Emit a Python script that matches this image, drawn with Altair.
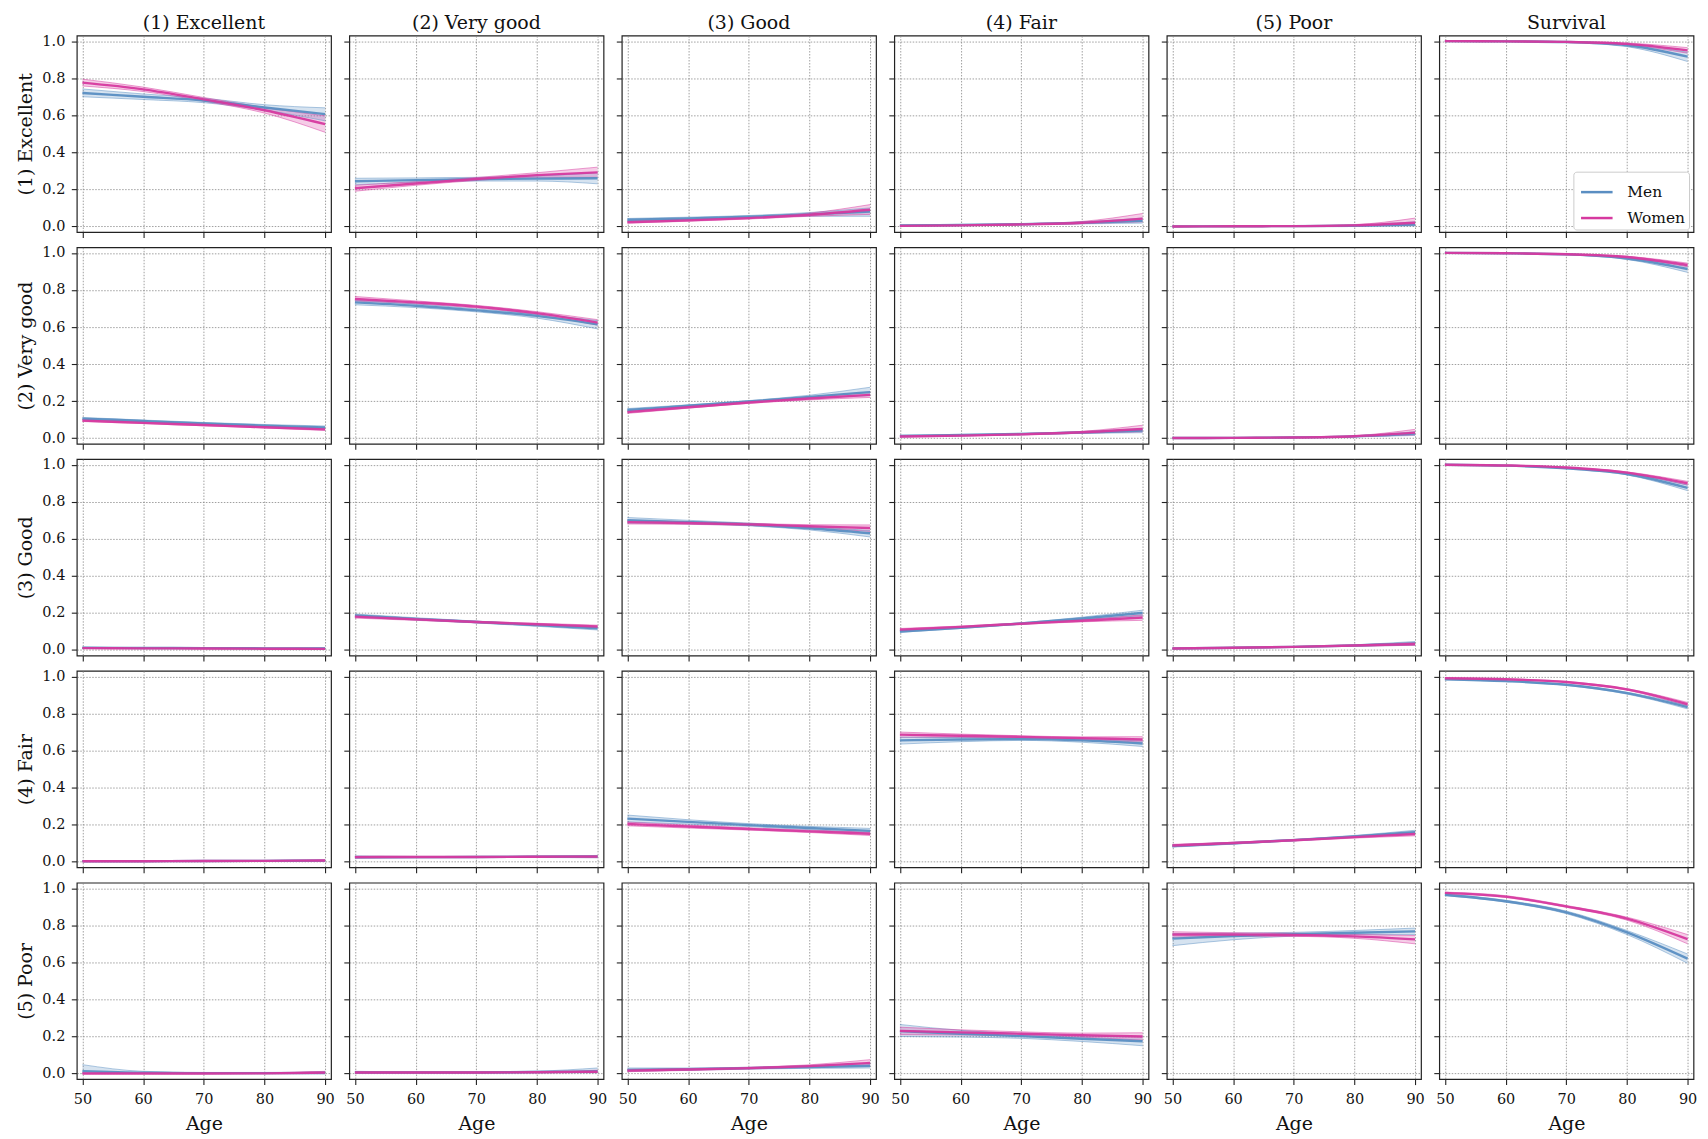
import altair as alt
import pandas as pd

AGES = [50, 60, 70, 80, 90]
STATES = ["(1) Excellent", "(2) Very good", "(3) Good", "(4) Fair", "(5) Poor"]
COLUMNS = STATES + ["Survival"]
SEXES = ["Men", "Women"]
COLORS = ["#5a8ec2", "#d6399f"]
Y_TICKS = [0.0, 0.2, 0.4, 0.6, 0.8, 1.0]

# [from-state row][to-state column][age 50, 60, 70, 80, 90]
MEN_MEAN = [
    [[0.720, 0.700, 0.680, 0.642, 0.606], [0.244, 0.250, 0.255, 0.258, 0.260], [0.036, 0.043, 0.052, 0.065, 0.080], [0.005, 0.008, 0.012, 0.019, 0.030], [0.000, 0.001, 0.002, 0.004, 0.010], [1.000, 0.999, 0.995, 0.978, 0.916]],
    [[0.106, 0.093, 0.080, 0.068, 0.058], [0.733, 0.715, 0.690, 0.660, 0.615], [0.152, 0.175, 0.198, 0.223, 0.249], [0.012, 0.017, 0.023, 0.031, 0.041], [0.001, 0.002, 0.004, 0.010, 0.025], [1.000, 0.998, 0.992, 0.970, 0.913]],
    [[0.012, 0.011, 0.010, 0.009, 0.008], [0.186, 0.168, 0.151, 0.134, 0.117], [0.700, 0.690, 0.677, 0.657, 0.630], [0.100, 0.120, 0.143, 0.170, 0.200], [0.008, 0.012, 0.017, 0.024, 0.035], [1.000, 0.995, 0.980, 0.950, 0.875]],
    [[0.003, 0.003, 0.004, 0.005, 0.006], [0.025, 0.025, 0.026, 0.027, 0.028], [0.233, 0.215, 0.198, 0.182, 0.167], [0.655, 0.660, 0.662, 0.655, 0.638], [0.085, 0.100, 0.117, 0.137, 0.160], [0.985, 0.975, 0.955, 0.910, 0.835]],
    [[0.012, 0.004, 0.002, 0.002, 0.003], [0.006, 0.006, 0.006, 0.008, 0.012], [0.020, 0.024, 0.029, 0.035, 0.042], [0.229, 0.215, 0.202, 0.188, 0.174], [0.728, 0.742, 0.752, 0.760, 0.767], [0.965, 0.930, 0.870, 0.762, 0.620]],
]
MEN_LO = [
    [[0.700, 0.685, 0.668, 0.628, 0.570], [0.225, 0.238, 0.245, 0.245, 0.230], [0.028, 0.037, 0.046, 0.055, 0.055], [0.002, 0.005, 0.009, 0.014, 0.018], [0.000, 0.000, 0.001, 0.002, 0.003], [0.999, 0.998, 0.993, 0.970, 0.890]],
    [[0.100, 0.088, 0.076, 0.063, 0.050], [0.720, 0.705, 0.682, 0.648, 0.590], [0.145, 0.170, 0.193, 0.215, 0.230], [0.008, 0.014, 0.020, 0.026, 0.030], [0.000, 0.001, 0.003, 0.007, 0.015], [0.999, 0.997, 0.990, 0.965, 0.895]],
    [[0.009, 0.009, 0.008, 0.007, 0.005], [0.178, 0.162, 0.146, 0.128, 0.108], [0.685, 0.680, 0.670, 0.648, 0.610], [0.095, 0.116, 0.139, 0.163, 0.185], [0.006, 0.010, 0.015, 0.020, 0.026], [0.999, 0.994, 0.978, 0.945, 0.860]],
    [[0.001, 0.002, 0.003, 0.003, 0.003], [0.018, 0.021, 0.023, 0.023, 0.022], [0.215, 0.203, 0.190, 0.173, 0.155], [0.635, 0.648, 0.655, 0.645, 0.622], [0.079, 0.095, 0.113, 0.132, 0.150], [0.983, 0.973, 0.952, 0.905, 0.825]],
    [[0.000, 0.000, 0.000, 0.000, 0.000], [0.002, 0.003, 0.003, 0.004, 0.004], [0.012, 0.018, 0.024, 0.028, 0.030], [0.200, 0.197, 0.190, 0.173, 0.150], [0.690, 0.722, 0.742, 0.750, 0.750], [0.960, 0.925, 0.863, 0.750, 0.595]],
]
MEN_HI = [
    [[0.742, 0.715, 0.692, 0.657, 0.640], [0.260, 0.262, 0.265, 0.272, 0.290], [0.043, 0.050, 0.059, 0.075, 0.100], [0.008, 0.011, 0.015, 0.025, 0.045], [0.002, 0.003, 0.004, 0.008, 0.025], [1.000, 1.000, 0.997, 0.985, 0.940]],
    [[0.112, 0.098, 0.085, 0.074, 0.066], [0.745, 0.725, 0.698, 0.670, 0.635], [0.160, 0.180, 0.203, 0.232, 0.275], [0.016, 0.020, 0.026, 0.036, 0.052], [0.002, 0.003, 0.006, 0.013, 0.035], [1.000, 0.999, 0.994, 0.975, 0.930]],
    [[0.015, 0.013, 0.012, 0.011, 0.012], [0.194, 0.174, 0.156, 0.140, 0.126], [0.715, 0.700, 0.685, 0.666, 0.645], [0.105, 0.124, 0.147, 0.177, 0.215], [0.010, 0.014, 0.019, 0.028, 0.046], [1.000, 0.996, 0.982, 0.955, 0.890]],
    [[0.005, 0.005, 0.006, 0.007, 0.010], [0.032, 0.029, 0.029, 0.031, 0.034], [0.252, 0.227, 0.206, 0.191, 0.180], [0.672, 0.670, 0.669, 0.663, 0.652], [0.091, 0.105, 0.121, 0.142, 0.170], [0.987, 0.977, 0.958, 0.915, 0.845]],
    [[0.048, 0.012, 0.006, 0.006, 0.010], [0.012, 0.009, 0.009, 0.013, 0.030], [0.030, 0.030, 0.034, 0.043, 0.055], [0.265, 0.233, 0.215, 0.203, 0.200], [0.755, 0.758, 0.762, 0.772, 0.785], [0.970, 0.935, 0.877, 0.772, 0.645]],
]
WOMEN_MEAN = [
    [[0.776, 0.740, 0.686, 0.627, 0.552], [0.206, 0.232, 0.256, 0.277, 0.292], [0.023, 0.033, 0.045, 0.063, 0.090], [0.003, 0.006, 0.011, 0.020, 0.042], [0.000, 0.001, 0.002, 0.006, 0.020], [1.000, 0.999, 0.996, 0.985, 0.950]],
    [[0.095, 0.083, 0.071, 0.059, 0.048], [0.751, 0.733, 0.710, 0.675, 0.624], [0.141, 0.167, 0.193, 0.214, 0.234], [0.009, 0.014, 0.021, 0.032, 0.050], [0.001, 0.002, 0.004, 0.011, 0.030], [1.000, 0.998, 0.993, 0.978, 0.935]],
    [[0.010, 0.009, 0.008, 0.007, 0.006], [0.180, 0.165, 0.151, 0.139, 0.127], [0.690, 0.685, 0.678, 0.668, 0.658], [0.110, 0.125, 0.142, 0.158, 0.175], [0.008, 0.012, 0.017, 0.024, 0.032], [1.000, 0.996, 0.985, 0.957, 0.900]],
    [[0.003, 0.003, 0.004, 0.005, 0.007], [0.025, 0.026, 0.026, 0.027, 0.028], [0.204, 0.190, 0.177, 0.164, 0.151], [0.686, 0.680, 0.674, 0.667, 0.660], [0.088, 0.101, 0.116, 0.133, 0.150], [0.990, 0.985, 0.970, 0.930, 0.850]],
    [[0.000, 0.000, 0.000, 0.001, 0.005], [0.006, 0.006, 0.006, 0.007, 0.010], [0.016, 0.022, 0.029, 0.040, 0.057], [0.230, 0.222, 0.215, 0.207, 0.200], [0.750, 0.750, 0.748, 0.740, 0.724], [0.975, 0.955, 0.902, 0.836, 0.725]],
]
WOMEN_LO = [
    [[0.758, 0.728, 0.676, 0.612, 0.508], [0.190, 0.222, 0.248, 0.265, 0.265], [0.018, 0.028, 0.040, 0.055, 0.065], [0.001, 0.004, 0.008, 0.015, 0.025], [0.000, 0.000, 0.001, 0.003, 0.008], [0.999, 0.998, 0.994, 0.980, 0.935]],
    [[0.090, 0.079, 0.067, 0.055, 0.042], [0.740, 0.725, 0.703, 0.667, 0.610], [0.134, 0.162, 0.188, 0.207, 0.220], [0.006, 0.011, 0.018, 0.027, 0.035], [0.000, 0.001, 0.003, 0.008, 0.018], [0.999, 0.997, 0.991, 0.974, 0.925]],
    [[0.008, 0.007, 0.006, 0.005, 0.004], [0.172, 0.160, 0.147, 0.134, 0.120], [0.680, 0.678, 0.672, 0.660, 0.640], [0.104, 0.121, 0.138, 0.152, 0.160], [0.006, 0.010, 0.015, 0.021, 0.025], [0.999, 0.995, 0.983, 0.953, 0.890]],
    [[0.002, 0.002, 0.003, 0.004, 0.004], [0.020, 0.023, 0.023, 0.024, 0.022], [0.194, 0.182, 0.171, 0.158, 0.142], [0.672, 0.671, 0.668, 0.660, 0.645], [0.082, 0.097, 0.112, 0.128, 0.140], [0.988, 0.983, 0.967, 0.926, 0.840]],
    [[0.000, 0.000, 0.000, 0.000, 0.001], [0.003, 0.004, 0.004, 0.005, 0.005], [0.010, 0.017, 0.024, 0.034, 0.042], [0.210, 0.208, 0.205, 0.196, 0.180], [0.735, 0.740, 0.740, 0.730, 0.700], [0.971, 0.950, 0.897, 0.828, 0.700]],
]
WOMEN_HI = [
    [[0.795, 0.752, 0.696, 0.642, 0.597], [0.222, 0.242, 0.264, 0.290, 0.320], [0.030, 0.038, 0.050, 0.072, 0.118], [0.005, 0.008, 0.014, 0.027, 0.070], [0.001, 0.002, 0.004, 0.010, 0.045], [1.000, 1.000, 0.998, 0.990, 0.965]],
    [[0.100, 0.087, 0.075, 0.064, 0.055], [0.765, 0.741, 0.717, 0.683, 0.640], [0.148, 0.172, 0.198, 0.221, 0.250], [0.012, 0.017, 0.024, 0.037, 0.070], [0.002, 0.003, 0.006, 0.014, 0.048], [1.000, 0.999, 0.995, 0.982, 0.945]],
    [[0.012, 0.011, 0.010, 0.009, 0.009], [0.188, 0.170, 0.155, 0.144, 0.134], [0.700, 0.692, 0.684, 0.676, 0.675], [0.116, 0.129, 0.146, 0.164, 0.190], [0.010, 0.014, 0.019, 0.027, 0.040], [1.000, 0.997, 0.987, 0.961, 0.910]],
    [[0.004, 0.004, 0.005, 0.006, 0.010], [0.030, 0.029, 0.029, 0.030, 0.034], [0.214, 0.198, 0.183, 0.170, 0.160], [0.700, 0.689, 0.680, 0.674, 0.675], [0.094, 0.105, 0.120, 0.138, 0.160], [0.992, 0.987, 0.973, 0.934, 0.860]],
    [[0.003, 0.002, 0.002, 0.003, 0.012], [0.009, 0.008, 0.008, 0.010, 0.018], [0.022, 0.027, 0.034, 0.047, 0.075], [0.250, 0.236, 0.225, 0.218, 0.220], [0.765, 0.760, 0.757, 0.750, 0.745], [0.979, 0.960, 0.907, 0.844, 0.750]],
]

SERIES = {
    "Men": (MEN_MEAN, MEN_LO, MEN_HI),
    "Women": (WOMEN_MEAN, WOMEN_LO, WOMEN_HI),
}

records = []
for sex in SEXES:
    mean_a, lo_a, hi_a = SERIES[sex]
    for r in range(len(STATES)):
        for c in range(len(COLUMNS)):
            for i, age in enumerate(AGES):
                records.append({
                    "r": r, "c": c, "sex": sex, "age": age,
                    "mean": mean_a[r][c][i], "lo": lo_a[r][c][i], "hi": hi_a[r][c][i],
                })
df = pd.DataFrame(records)

FONT = "DejaVu Serif"
W, H = 255, 197
COL_GAP, ROW_GAP = 18.3, 15.4
X_DOMAIN = [49.07, 90.98]
Y_DOMAIN = [-0.03, 1.03]


def panel(r, c):
    last_row = r == len(STATES) - 1
    first_col = c == 0
    x_axis = alt.Axis(values=AGES, format="d", labels=last_row,
                      title="Age" if last_row else None,
                      labelPadding=7.5, titlePadding=9)
    y_axis = alt.Axis(values=Y_TICKS, format=".1f", labels=first_col,
                      title=STATES[r] if first_col else None,
                      labelPadding=6.5, titlePadding=6)
    xs = alt.Scale(domain=X_DOMAIN, nice=False, zero=False)
    ys = alt.Scale(domain=Y_DOMAIN, nice=False, zero=False)
    x = alt.X("age:Q", scale=xs, axis=x_axis)
    if r == 0 and c == len(COLUMNS) - 1:
        legend = alt.Legend(
            orient="none", legendX=W - 120.5, legendY=H - 60.5, title=None,
            symbolType="stroke", symbolSize=1000, symbolStrokeWidth=2.5,
            symbolOpacity=1, symbolOffset=3,
            labelFont=FONT, labelFontSize=15.5, labelColor="#111",
            strokeColor="#cccccc", fillColor="white", padding=3,
            cornerRadius=3, rowPadding=-5, labelOffset=13,
        )
    else:
        legend = None
    stroke = alt.Stroke("sex:N", scale=alt.Scale(domain=SEXES, range=COLORS), legend=legend)
    # fill scale listed in the other order so its (hidden) legend is not merged with the stroke one
    fill = alt.Fill("sex:N", scale=alt.Scale(domain=SEXES[::-1], range=COLORS[::-1]), legend=None)

    band = alt.Chart().mark_area(opacity=0.25, interpolate="monotone").encode(
        x=x, y=alt.Y("lo:Q", scale=ys, axis=y_axis), y2="hi:Q", fill=fill)
    lo = alt.Chart().mark_line(strokeWidth=0.9, opacity=0.55, interpolate="monotone").encode(
        x=x, y=alt.Y("lo:Q", scale=ys, axis=y_axis), stroke=stroke)
    hi = alt.Chart().mark_line(strokeWidth=0.9, opacity=0.55, interpolate="monotone").encode(
        x=x, y=alt.Y("hi:Q", scale=ys, axis=y_axis), stroke=stroke)
    mean = alt.Chart().mark_line(strokeWidth=2.4, opacity=0.95, interpolate="monotone").encode(
        x=x, y=alt.Y("mean:Q", scale=ys, axis=y_axis), stroke=stroke)

    layer = alt.layer(band, lo, hi, mean).transform_filter(
        (alt.datum.r == r) & (alt.datum.c == c)
    )
    if r == 0:
        title = alt.TitleParams(COLUMNS[c], offset=3, frame="group", dy=3.3 if first_col else 0)
        layer = layer.properties(width=W, height=H, title=title)
    else:
        layer = layer.properties(width=W, height=H)
    return layer


panels = [panel(r, c) for r in range(len(STATES)) for c in range(len(COLUMNS))]

chart = alt.concat(
    *panels, columns=6, data=df, spacing={"row": ROW_GAP, "column": COL_GAP}, bounds="flush"
).resolve_scale(
    stroke="independent", fill="independent"
).resolve_legend(
    stroke="independent", fill="independent"
).properties(
    padding={"left": 8, "top": 3, "right": 2, "bottom": 0},
    background="white",
).configure_view(
    stroke="#222", strokeWidth=1.2
).configure_axis(
    domain=False, grid=True, gridColor="#888", gridDash=[1.5, 1.5], gridWidth=0.8,
    tickColor="#222", tickSize=5.5, tickWidth=1.1,
    labelFont=FONT, labelFontSize=14.5, labelColor="#111",
    titleFont=FONT, titleFontSize=19, titleFontWeight="normal", titleColor="#111",
).configure_title(
    font=FONT, fontSize=19, fontWeight="normal", color="#111", anchor="middle"
)

chart.save("out.html", embed_options={"renderer": "svg", "actions": False})
